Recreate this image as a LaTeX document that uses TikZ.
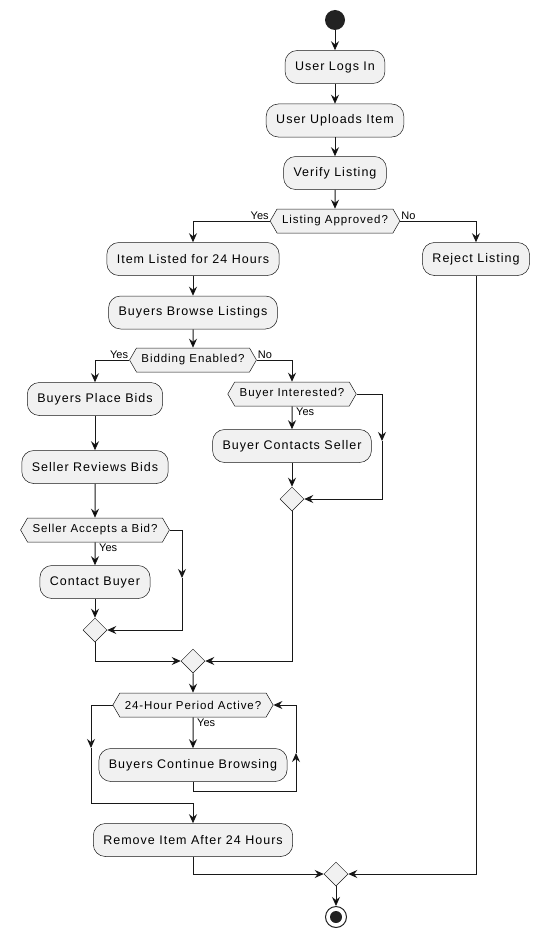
\documentclass[tikz,border=0pt]{standalone}
\usepackage{fontspec}
\setmainfont{Liberation Sans}
\newfontfamily\actfont[LetterSpace=8.0]{Liberation Sans}
\usepackage{tikz}
\usetikzlibrary{arrows.meta,shapes.geometric,shapes.symbols,positioning}
\definecolor{boxfill}{HTML}{F1F1F1}
\definecolor{ink}{HTML}{181818}
\definecolor{dot}{HTML}{222222}
\tikzset{every node/.style={align=center}, >= {Stealth[length=9pt,width=8pt,inset=3pt]},
  action/.style={rectangle, rounded corners=12pt, draw=ink, line width=0.5pt, fill=boxfill,
    minimum height=33pt, inner xsep=10pt, font=\fontsize{12.5}{14}\actfont},
  choice/.style={signal, signal to=east and west, signal pointer angle=120, draw=ink,
    line width=0.5pt, fill=boxfill, minimum height=24pt, inner xsep=5pt, inner ysep=2pt,
    font=\fontsize{11.5}{13}\actfont},
  merge/.style={diamond, draw=ink, line width=0.5pt, fill=boxfill, minimum size=24pt, inner sep=0pt},
  flow/.style={draw=ink, line width=1pt, ->},
  branch/.style={font=\fontsize{11}{12}\selectfont, inner sep=1pt}}

\begin{document}
\begin{tikzpicture}[x=1pt, y=-1pt]
    \useasboundingbox (0,0) rectangle (542,939);
    % main column
    \node [circle, fill=dot, minimum size=20pt, inner sep=0pt] (start) at (335,20) {};
    \node [action] (login) at (335,67) {User Logs In};
    \node [action] (upload) [below=20pt of login] {User Uploads Item};
    \node [action] (verify) [below=19pt of upload] {Verify Listing};
    \node [choice] (approved) [below=19pt of verify] {Listing Approved?};
    \node [action] (listed) at (193,259) {Item Listed for 24 Hours};
    \node [action] (reject) at (476,259) {Reject Listing};
    \node [action] (browse) [below=20pt of listed] {Buyers Browse Listings};
    \node [choice] (bidding) at (193,360) {Bidding Enabled?};
    % bidding branch
    \node [action] (bids) at (95,399) {Buyers Place Bids};
    \node [action] (reviews) at (95,467) {Seller Reviews Bids};
    \node [choice] (accepts) at (95,530) {Seller Accepts a Bid?};
    \node [action] (contact) at (95,582) {Contact Buyer};
    \node [merge] (m1) at (95,630) {};
    % no bidding branch
    \node [choice] (interested) at (292,394) {Buyer Interested?};
    \node [action] (contacts) at (292,446) {Buyer Contacts Seller};
    \node [merge] (m2) at (292,499) {};
    % loop
    \node [merge] (m3) at (193,661) {};
    \node [choice] (period) at (193,705) {24-Hour Period Active?};
    \node [action] (continue) at (193,765) {Buyers Continue Browsing};
    \node [action] (remove) at (193,840) {Remove Item After 24 Hours};
    \node [merge] (m4) at (336,874) {};
    \node [circle, draw=dot, line width=1pt, minimum size=21pt, inner sep=0pt,
        path picture={\fill[dot] (path picture bounding box.center) circle (6pt);}] (stop) at (336,917) {};

    \coordinate (c1) at (182,578);
    \coordinate (c2) at (382,441);
    \coordinate (c3) at (296,753);
    \coordinate (c4) at (91,748);
    \coordinate (j3) at (193,791);
    \coordinate (j4) at (193,803);

    \path[flow] (start) edge (login)
        (login) edge (upload)
        (upload) edge (verify)
        (verify) edge (approved)
        (listed) edge (browse)
        (browse) edge (bidding)
        (bids) edge (reviews)
        (reviews) edge (accepts)
        (accepts) edge (contact)
        (contact) edge (m1)
        (interested) edge (contacts)
        (contacts) edge (m2)
        (m3) edge (period)
        (period) edge (continue)
        (m4) edge (stop);
    \draw[flow] (approved.west) -| (listed);
    \draw[flow] (approved.east) -| (reject);
    \draw[flow] (bidding.west) -| (bids);
    \draw[flow] (bidding.east) -| (interested);
    \draw[flow] (accepts.east) -| (c1);
    \draw[flow] (c1) |- (m1.east);
    \draw[flow] (interested.east) -| (c2);
    \draw[flow] (c2) |- (m2.east);
    \draw[flow] (m1.south) |- (m3.west);
    \draw[flow] (m2.south) |- (m3.east);
    \draw[draw=ink, line width=1pt] (continue.south) -- (j3);
    \draw[flow] (j3) -| (c3);
    \draw[flow] (c3) |- (period.east);
    \draw[flow] (period.west) -| (c4);
    \draw[flow] (c4) |- (j4) -- (remove);
    \draw[flow] (remove.south) |- (m4.west);
    \draw[flow] (reject.south) |- (m4.east);

    % branch labels
    \node [branch, anchor=south east] at (approved.west) {Yes};
    \node [branch, anchor=south west] at (approved.east) {No};
    \node [branch, anchor=south east] at (bidding.west) {Yes};
    \node [branch, anchor=south west] at (bidding.east) {No};
    \node [branch, anchor=north west] at ([xshift=3pt]interested.south) {Yes};
    \node [branch, anchor=north west] at ([xshift=3pt]accepts.south) {Yes};
    \node [branch, anchor=north west] at ([xshift=3pt]period.south) {Yes};
\end{tikzpicture}
\end{document}
